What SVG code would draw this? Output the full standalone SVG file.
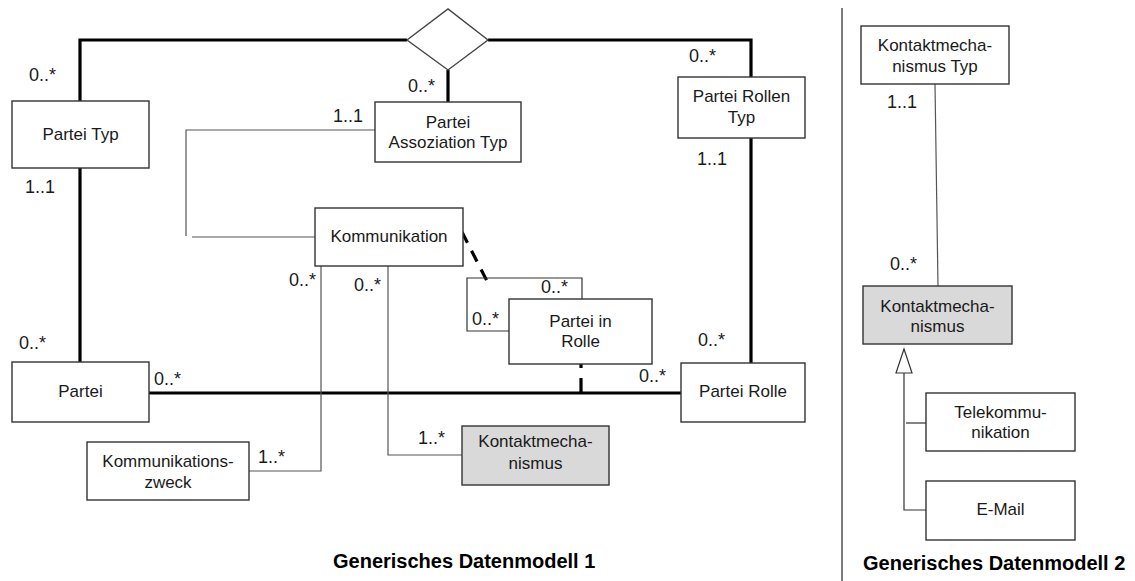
<svg xmlns="http://www.w3.org/2000/svg" width="1135" height="581" viewBox="0 0 1135 581">
<style>
.box{fill:#fff;stroke:#333;stroke-width:1.4}
.gray{fill:#d9d9d9;stroke:#333;stroke-width:1.4}
.t{font-family:"Liberation Sans",Arial,sans-serif;font-size:17px;fill:#1a1a1a;text-anchor:middle}
.m{font-family:"Liberation Sans",Arial,sans-serif;font-size:18px;fill:#1a1a1a}
.title{font-family:"Liberation Sans",Arial,sans-serif;font-size:20px;font-weight:bold;fill:#000}
.thick{fill:none;stroke:#000;stroke-width:3.2}
.dash{fill:none;stroke:#000;stroke-width:3.2;stroke-dasharray:12 9}
.thin{fill:none;stroke:#555;stroke-width:1.2}
</style>
<rect width="1135" height="581" fill="#fff"/>
<g id="connectors">
<path class="thick" d="M80,101 V40 H407"/>
<path class="thick" d="M488,40 H751 V77"/>
<path class="thick" d="M448,70 V102"/>
<path class="thick" d="M80,168 V362"/>
<path class="thick" d="M751,138 V363"/>
<path class="thick" d="M149,393 H681"/>
<path class="dash" d="M462,232 L488,283"/>
<path class="dash" d="M581,364 V393" style="stroke-dasharray:4 10 14 10"/>
<path class="thin" d="M509,331 H467 V278 H582 V299" style="stroke:#333"/>
<path class="thin" d="M375,130 H186 V236"/>
<path class="thin" d="M192,237 H315"/>
<path class="thin" d="M321,266 V471 H249"/>
<path class="thin" d="M388,266 V455 H462"/>
<path class="thin" d="M935,84 L938,286"/>
<path class="thin" d="M904,373 V510 H926" style="stroke:#333"/>
<path class="thin" d="M906,423 H926" style="stroke:#333"/>
<polygon points="904,349 896,373 912,373" fill="#fff" stroke="#333" stroke-width="1.2"/>
<path d="M842,8 V581" stroke="#444" stroke-width="1.4" fill="none"/>
</g>
<g id="diamond"><polygon points="407,40 448,9 488,40 448,70" fill="#fff" stroke="#444" stroke-width="1.4"/></g>
<g id="partei-typ"><rect class="box" x="12" y="101" width="137" height="67"/><text class="t" x="80.5" y="140">Partei Typ</text></g>
<g id="partei-assoziation-typ"><rect class="box" x="375" y="102" width="146" height="60"/><text class="t" x="448" y="128">Partei</text><text class="t" x="448" y="148">Assoziation Typ</text></g>
<g id="partei-rollen-typ"><rect class="box" x="678" y="77" width="127" height="61"/><text class="t" x="741.5" y="102">Partei Rollen</text><text class="t" x="741.5" y="123">Typ</text></g>
<g id="kommunikation"><rect class="box" x="315" y="208" width="148" height="58"/><text class="t" x="389" y="242">Kommunikation</text></g>
<g id="partei-in-rolle"><rect class="box" x="509" y="299" width="143" height="65"/><text class="t" x="580.5" y="327">Partei in</text><text class="t" x="580.5" y="347">Rolle</text></g>
<g id="partei"><rect class="box" x="12" y="362" width="137" height="60"/><text class="t" x="80.5" y="397">Partei</text></g>
<g id="partei-rolle"><rect class="box" x="681" y="363" width="124" height="59"/><text class="t" x="743" y="397">Partei Rolle</text></g>
<g id="kommunikationszweck"><rect class="box" x="87" y="442" width="162" height="58"/><text class="t" x="168" y="467">Kommunikations-</text><text class="t" x="168" y="488">zweck</text></g>
<g id="kontaktmechanismus-1"><rect class="gray" x="462" y="426" width="147" height="59"/><text class="t" x="535.5" y="447">Kontaktmecha-</text><text class="t" x="535.5" y="469">nismus</text></g>
<g id="kontaktmechanismus-typ"><rect class="box" x="861" y="26" width="148" height="58"/><text class="t" x="935" y="51">Kontaktmecha-</text><text class="t" x="935" y="72">nismus Typ</text></g>
<g id="kontaktmechanismus-2"><rect class="gray" x="863" y="286" width="149" height="58"/><text class="t" x="937.5" y="312">Kontaktmecha-</text><text class="t" x="937.5" y="332">nismus</text></g>
<g id="telekommunikation"><rect class="box" x="926" y="393" width="149" height="58"/><text class="t" x="1000.5" y="418">Telekommu-</text><text class="t" x="1000.5" y="438">nikation</text></g>
<g id="email"><rect class="box" x="926" y="481" width="149" height="59"/><text class="t" x="1000.5" y="515">E-Mail</text></g>
<g id="labels">
<text class="m" x="29" y="81">0..*</text>
<text class="m" x="25" y="193">1..1</text>
<text class="m" x="333" y="122">1..1</text>
<text class="m" x="408" y="92">0..*</text>
<text class="m" x="689" y="62">0..*</text>
<text class="m" x="697" y="165">1..1</text>
<text class="m" x="289" y="286">0..*</text>
<text class="m" x="354" y="291">0..*</text>
<text class="m" x="19" y="349">0..*</text>
<text class="m" x="154" y="385">0..*</text>
<text class="m" x="258" y="463">1..*</text>
<text class="m" x="418" y="444">1..*</text>
<text class="m" x="541" y="293">0..*</text>
<text class="m" x="472" y="325">0..*</text>
<text class="m" x="639" y="382">0..*</text>
<text class="m" x="698" y="346">0..*</text>
<text class="m" x="887" y="108">1..1</text>
<text class="m" x="890" y="270">0..*</text>
<text class="title" x="333" y="568">Generisches Datenmodell 1</text>
<text class="title" x="863" y="570">Generisches Datenmodell 2</text>
</g>
</svg>
